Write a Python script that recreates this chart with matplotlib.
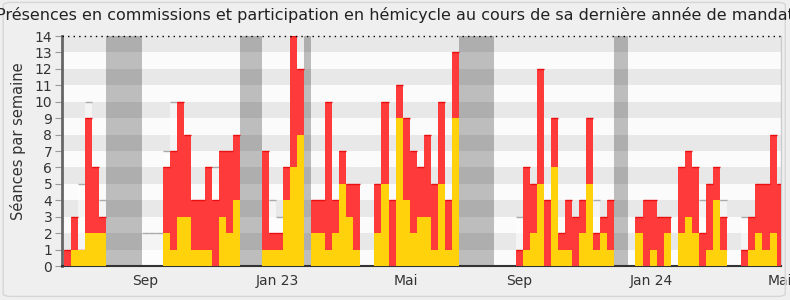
import matplotlib.pyplot as plt
import numpy as np
from matplotlib.patches import FancyBboxPatch

# Données hebdomadaires (une case = une semaine)
seances_total = [1, 3, 1, 9, 6, 3, 0, 0, 0, 0, 0, 0, 0, 0,
                 6, 7, 10, 8, 4, 4, 6, 4, 7, 7, 8, 0, 0, 0,
                 7, 2, 2, 6, 14, 12, 0, 4, 4, 10, 4, 7, 5, 5, 0, 0,
                 5, 10, 4, 11, 9, 7, 6, 8, 5, 10, 4, 13, 0, 0, 0, 0, 0, 0, 0, 0,
                 1, 6, 5, 12, 4, 9, 2, 4, 3, 4, 9, 2, 3, 4, 0, 0, 0,
                 3, 4, 4, 3, 3, 0, 6, 7, 6, 2, 5, 6, 3, 0, 0,
                 1, 3, 5, 5, 8, 5]
commissions = [0, 1, 1, 2, 2, 2, 0, 0, 0, 0, 0, 0, 0, 0,
               2, 1, 3, 3, 1, 1, 1, 0, 3, 2, 4, 0, 0, 0,
               1, 1, 1, 4, 6, 8, 0, 2, 2, 1, 2, 5, 3, 1, 0, 0,
               2, 5, 0, 9, 4, 2, 3, 3, 1, 5, 1, 9, 0, 0, 0, 0, 0, 0, 0, 0,
               0, 1, 2, 5, 0, 6, 1, 1, 0, 2, 5, 1, 2, 1, 0, 0, 0,
               2, 0, 1, 0, 2, 0, 2, 3, 2, 0, 1, 4, 1, 0, 0,
               0, 1, 2, 1, 2, 0]
mediane = [0, 0, 5, 10, 0, 4, 0, 0, 0, 0, 0, 2, 2, 2,
           7, 10, 0, 0, 0, 0, 0, 6, 0, 0, 0, 0, 0, 0,
           0, 4, 3, 0, 0, 0, 0, 0, 0, 0, 0, 0, 0, 0, 0, 0,
           0, 0, 0, 0, 0, 0, 0, 0, 0, 0, 0, 0, 0, 0, 0, 0, 0, 0, 0, 0,
           3, 0, 0, 0, 0, 0, 0, 0, 0, 0, 0, 4, 0, 0, 0, 0, 0,
           0, 0, 0, 0, 0, 0, 0, 0, 0, 4, 4, 4, 4, 0, 0,
           3, 0, 0, 0, 0, 0]
vacances = [(6, 11), (25, 28), (34, 35), (56, 61), (78, 80)]
mois_pos = [11.5, 30.2, 48.5, 64.5, 83.3, 101.5]
mois_lab = ["Sep", "Jan 23", "Mai", "Sep", "Jan 24", "Mai"]

rouge = "#ff3a3a"
jaune = "#ffd20c"

fig = plt.figure(figsize=(7.9, 3.0), dpi=100, facecolor="#efefef")
fig.patches.append(FancyBboxPatch((0.004, 0.012), 0.99, 0.98, boxstyle="round,pad=0,rounding_size=0.01",
                                  transform=fig.transFigure, facecolor="none",
                                  edgecolor="#d6d6d6", lw=1))
ax = fig.add_axes([0.0785, 0.1133, 0.9095, 0.7667])
ax.set_facecolor("#fbfbfb")

x = np.arange(len(seances_total))

# vacances parlementaires
for a, b in vacances:
    ax.axvspan(a, b, color="#bdbdbd", lw=0, zorder=0.5)

# bandes horizontales
for k in range(7):
    ax.axhspan(2 * k + 1, 2 * k + 2, color="black", alpha=0.075, lw=0, zorder=1)

# médiane des députés
ax.bar(x, mediane, width=1, align="edge", color="white", alpha=0.55, lw=0, zorder=2)
med = np.array(mediane)
ax.hlines(med[med > 0], x[med > 0], x[med > 0] + 1, color="#aaaaaa", lw=1, zorder=2.1)

# hémicycle + commissions
tot = np.array(seances_total)
ax.bar(x, seances_total, width=1, align="edge", color=rouge, lw=0, zorder=3)
ax.hlines(tot[tot > 0], x[tot > 0], x[tot > 0] + 1, color="#e81010", lw=1, zorder=3.1)
ax.bar(x, commissions, width=1, align="edge", color=jaune, lw=0, zorder=4)

ax.set_xlim(-0.28, 101.56)
ax.set_ylim(0, 14)
ax.set_yticks(range(15))
ax.tick_params(axis="y", length=5, color="#999999", labelsize=10, labelcolor="#333333", pad=2)
ax.set_xticks(mois_pos)
ax.set_xticklabels(mois_lab)
ax.tick_params(axis="x", length=0, labelsize=10, labelcolor="#333333", pad=6)

ax.spines["top"].set_visible(False)
ax.axhline(14, color="black", ls=(0, (1, 3)), lw=1, zorder=5, clip_on=False)
ax.spines["left"].set_color("#666666")
ax.spines["left"].set_linewidth(2)
ax.spines["bottom"].set_color("#333333")
ax.spines["bottom"].set_linewidth(1.5)
ax.spines["right"].set_color("#cccccc")
ax.spines["right"].set_linewidth(1)

fig.text(0.5, 0.95, "Présences en commissions et participation en hémicycle au cours de sa dernière année de mandat",
         ha="center", va="center", fontsize=11.5, color="#222222")
fig.text(0.023, 0.53, "Séances par semaine", rotation=90, ha="center", va="center",
         fontsize=10.5, color="#333333")

plt.savefig("out.png", dpi=100, facecolor=fig.get_facecolor())
